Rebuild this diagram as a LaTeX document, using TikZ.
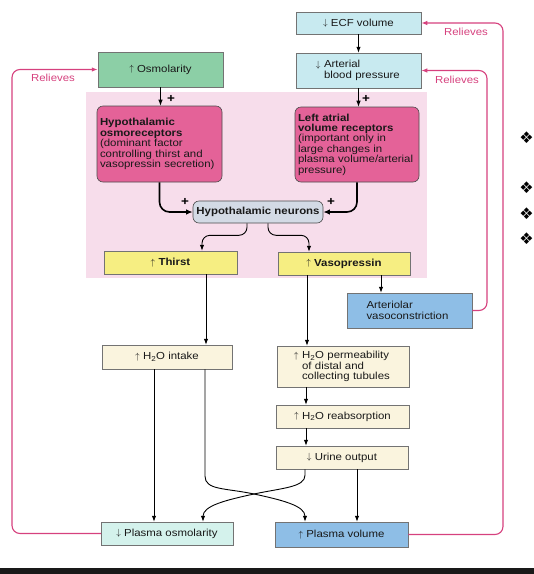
\documentclass[tikz,border=0pt]{standalone}
\usepackage{fontspec}
\setmainfont{Liberation Sans}[FakeStretch=1.12]
\newfontfamily\bulletfont{DejaVu Sans}
\usetikzlibrary{arrows.meta,calc}
\definecolor{osmgreen}{HTML}{8CCFA6}
\definecolor{pinkbg}{HTML}{F7DDEB}
\definecolor{recpink}{HTML}{E46298}
\definecolor{ltblue}{HTML}{C8EAF0}
\definecolor{hngray}{HTML}{D3DAE5}
\definecolor{yel}{HTML}{F6EE82}
\definecolor{midblue}{HTML}{8EBEE6}
\definecolor{cream}{HTML}{FAF4DE}
\definecolor{paleteal}{HTML}{D4F2EC}
\definecolor{relmag}{HTML}{D6417E}
\newcommand{\fsz}{\fontsize{10.2}{10.4}\selectfont}
\newcommand{\upar}{{\fontsize{8.6}{8.6}\selectfont\raisebox{0.4pt}{$\uparrow$}}}
\newcommand{\dnar}{{\fontsize{8.6}{8.6}\selectfont\raisebox{0.4pt}{$\downarrow$}}}
\begin{document}
\begin{tikzpicture}[x=1pt,y=-1pt,
  box/.style={draw=black!55, line width=0.5pt, inner sep=0pt, font=\fsz, align=center, text=black!90},
  rbox/.style={box, rounded corners=6pt, line width=0.6pt, draw=black!70},
  arr/.style={line width=0.9pt, -{Latex[length=6pt,width=4.5pt]}},
  bigarr/.style={line width=1.6pt, rounded corners=10pt, -{Latex[length=6.5pt,width=5.5pt]}},
  rel/.style={draw=relmag, line width=1.1pt, rounded corners=8pt, -{Latex[length=6pt,width=4.5pt]}},
  rellabel/.style={font=\fsz, text=relmag},
  plus/.style={font=\fontsize{12}{12}\selectfont\bfseries, inner sep=0pt},
  bullet/.style={font=\bulletfont\fontsize{16}{16}\selectfont, anchor=east, inner sep=0pt}]
\useasboundingbox (0,0) rectangle (534,574);

% background region
\node[fill=pinkbg, minimum width=341pt, minimum height=186pt, inner sep=0pt] (region) at (256.5,185) {};

% boxes
\node[box, fill=osmgreen, minimum width=125pt, minimum height=35pt] (osm) at (160.5,69.5) {\upar\ Osmolarity};
\node[rbox, fill=recpink, minimum width=125pt, minimum height=76pt, text width=119pt, align=left] (osmrec) at (159.5,144)
  {\textbf{Hypothalamic}\\\textbf{osmoreceptors}\\(dominant factor\\controlling thirst and\\vasopressin secretion)};
\node[box, fill=ltblue, minimum width=125pt, minimum height=22pt] (ecf) at (358.5,23) {\dnar\ ECF volume};
\node[box, fill=ltblue, minimum width=125pt, minimum height=35pt, text width=115pt, align=left] (abp) at (358.5,70.5)
  {\hspace*{23pt}\llap{\dnar\ }Arterial\\\hspace*{23pt}blood pressure};
\node[rbox, fill=recpink, minimum width=124pt, minimum height=75pt, text width=118pt, align=left] (lavr) at (357,144.5)
  {\textbf{Left atrial}\\\textbf{volume receptors}\\(important only in\\large changes in\\plasma volume/arterial\\pressure)};
\node[rbox, fill=hngray, minimum width=130pt, minimum height=22pt, font=\fsz\bfseries] (hn) at (258,212) {Hypothalamic neurons};
\node[box, fill=yel, minimum width=133pt, minimum height=23pt, font=\fsz\bfseries] (thirst) at (170.5,262.5) {\upar\ Thirst};
\node[box, fill=yel, minimum width=132pt, minimum height=23pt, font=\fsz\bfseries] (vaso) at (344,263.5) {\upar\ Vasopressin};
\node[box, fill=midblue, minimum width=125pt, minimum height=35pt, text width=86pt, align=left] (artv) at (409.5,310.5)
  {Arteriolar\\vasoconstriction};
\node[box, fill=cream, minimum width=130pt, minimum height=24pt] (h2oin) at (167,357) {\upar\ H\textsubscript{2}O intake};
\node[box, fill=cream, minimum width=132pt, minimum height=41pt, text width=122pt, align=left] (perm) at (343,366.5)
  {\hspace*{20pt}\llap{\upar\ }H\textsubscript{2}O permeability\\\hspace*{20pt}of distal and\\\hspace*{20pt}collecting tubules};
\node[box, fill=cream, minimum width=133pt, minimum height=23pt] (reab) at (342.5,416.5) {\upar\ H\textsubscript{2}O reabsorption};
\node[box, fill=cream, minimum width=132pt, minimum height=23pt] (urine) at (342,457.5) {\dnar\ Urine output};
\node[box, fill=paleteal, minimum width=132pt, minimum height=23pt] (posm) at (167,533.5) {\dnar\ Plasma osmolarity};
\node[box, fill=midblue, minimum width=133pt, minimum height=25pt] (pvol) at (341.5,534.5) {\upar\ Plasma volume};

% plus signs
\node[plus] (p1) at (171,98.5) {+};
\node[plus] (p2) at (366,99) {+};
\node[plus] (p3) at (185,202) {+};
\node[plus] (p4) at (331,202) {+};

% simple arrows
\draw[arr] (ecf) -- (abp);
\draw[arr] (osm.south) -- (osm.south |- osmrec.north);
\draw[arr] (abp.south) -- (abp.south |- lavr.north);
\draw[bigarr] (osmrec.south) |- (hn.west);
\draw[bigarr] (lavr.south) |- (hn.east);

\coordinate (hnL) at ($(hn.south)+(-11,0)$);
\coordinate (thT) at ($(thirst.north)+(31.5,0)$);
\coordinate (hnR) at ($(hn.south)+(10,0)$);
\coordinate (vaT) at ($(vaso.north)+(-35,0)$);
\draw[arr, rounded corners=8pt] (hnL) -- ($(hnL)+(0,12)$) -| (thT);
\draw[arr, rounded corners=8pt] (hnR) -- ($(hnR)+(0,12)$) -| (vaT);

\coordinate (thB) at ($(thirst.south)+(35.5,0)$);
\coordinate (vaB) at ($(vaso.south)+(-37,0)$);
\coordinate (vaB2) at ($(vaso.south)+(37,0)$);
\coordinate (pmB) at ($(perm.south)+(-37,0)$);
\coordinate (rbB) at ($(reab.south)+(-36.5,0)$);
\coordinate (urB2) at ($(urine.south)+(15,0)$);
\coordinate (hiB) at ($(h2oin.south)+(-13,0)$);
\draw[arr] (thB) -- (thB |- h2oin.north);
\draw[arr] (vaB) -- (vaB |- perm.north);
\draw[arr] (vaB2) -- (vaB2 |- artv.north);
\draw[arr] (pmB) -- (pmB |- reab.north);
\draw[arr] (rbB) -- (rbB |- urine.north);
\draw[arr] (urB2) -- (urB2 |- pvol.north);
\draw[arr] (hiB) -- (hiB |- posm.north);

% crossing connectors
\coordinate (a1) at ($(h2oin.south)+(38,0)$);
\coordinate (a2) at ($(pvol.north)+(-36.5,0)$);
\coordinate (b1) at ($(urine.south)+(-37,0)$);
\coordinate (b2) at ($(posm.north)+(36,0)$);
\coordinate (X) at (254,494);
\draw[arr] (a1) -- ($(a1)+(0,107)$) .. controls ($(a1)+(0,121)$) and ($(X)+(-28,-6)$) .. (X)
  .. controls ($(X)+(28,6)$) and ($(a2)+(0,-16)$) .. (a2);
\draw[arr] (b1) -- ($(b1)+(0,6)$) .. controls ($(b1)+(0,18)$) and ($(X)+(28,-6)$) .. (X)
  .. controls ($(X)+(-28,6)$) and ($(b2)+(0,-16)$) .. (b2);

% relieves loops
\coordinate (Lx) at (12,0);
\coordinate (Rx) at (503,0);
\coordinate (Mx) at (487,0);
\draw[rel] (posm.west) -- (posm.west -| Lx) -- (osm.west -| Lx) -- (osm.west);
\draw[rel] (pvol.east) -- (pvol.east -| Rx) -- (ecf.east -| Rx) -- (ecf.east);
\draw[rel] (artv.east) -- (artv.east -| Mx) -- (abp.east -| Mx) -- (abp.east);
\node[rellabel] (rel1) at (53,78) {Relieves};
\node[rellabel] (rel2) at (466,32) {Relieves};
\node[rellabel] (rel3) at (457,80) {Relieves};

% bullets at right edge
\node[bullet] (bu1) at (533.8,138) {❖};
\node[bullet] (bu2) at (533.8,188) {❖};
\node[bullet] (bu3) at (533.8,214) {❖};
\node[bullet] (bu4) at (533.8,239) {❖};

% bottom bar
\fill[black!90] (0,568) rectangle (534,574);
\end{tikzpicture}
\end{document}
